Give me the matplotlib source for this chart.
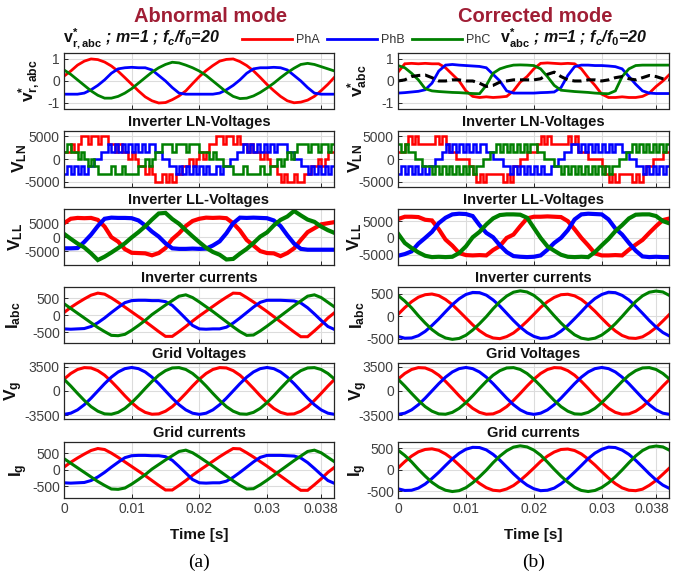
import numpy as np
import matplotlib
matplotlib.use("Agg")
import matplotlib.pyplot as plt
from matplotlib.transforms import ScaledTranslation

# sample steps of the stored waveforms
STEP = 1e-3        # smooth signals
STEP_FINE = 0.5e-3  # PWM line-to-neutral voltages

# ---------------- reference signals (p.u.) ----------------
vref_ab_a = [0.22, 0.45, 0.72, 0.90, 1.00, 0.97, 0.86, 0.68, 0.44, 0.15,
             -0.15, -0.45, -0.72, -0.90, -1.00, -0.98, -0.85, -0.68, -0.45, -0.12,
             0.20, 0.47, 0.70, 0.90, 0.98, 1.00, 0.88, 0.70, 0.46, 0.16,
             -0.16, -0.44, -0.70, -0.90, -0.99, -0.96, -0.87, -0.70, -0.44, -0.15, 0.18]
vref_ab_b = [-0.60, -0.60, -0.60, -0.55, -0.40, -0.20, 0.05, 0.35, 0.55, 0.60,
             0.62, 0.60, 0.60, 0.50, 0.25, 0.00, -0.30, -0.55, -0.60, -0.60,
             -0.60, -0.60, -0.60, -0.55, -0.40, -0.20, 0.05, 0.35, 0.55, 0.60,
             0.60, 0.62, 0.60, 0.50, 0.25, 0.00, -0.30, -0.55, -0.60, -0.60, -0.60]
vref_ab_c = [0.50, 0.30, 0.05, -0.20, -0.45, -0.65, -0.78, -0.78, -0.70, -0.55,
             -0.35, -0.10, 0.15, 0.40, 0.60, 0.75, 0.85, 0.82, 0.72, 0.60,
             0.45, 0.25, 0.00, -0.25, -0.50, -0.70, -0.80, -0.78, -0.68, -0.52,
             -0.32, -0.10, 0.15, 0.38, 0.58, 0.75, 0.80, 0.75, 0.65, 0.55, 0.45]

vref_co_a = [0.40, 0.78, 0.80, 0.78, 0.80, 0.78, 0.78, 0.60, 0.30, 0.00,
             -0.45, -0.70, -0.75, -0.72, -0.75, -0.73, -0.70, -0.45, -0.05, 0.20,
             0.55, 0.80, 0.82, 0.80, 0.78, 0.80, 0.78, 0.55, 0.15, -0.20,
             -0.60, -0.75, -0.75, -0.72, -0.75, -0.75, -0.70, -0.55, -0.25, 0.00, 0.30]
vref_co_b = [-0.55, -0.53, -0.50, -0.47, -0.40, -0.10, 0.45, 0.72, 0.75, 0.72,
             0.70, 0.68, 0.66, 0.60, 0.30, 0.00, -0.45, -0.55, -0.55, -0.55,
             -0.55, -0.53, -0.52, -0.50, -0.30, 0.25, 0.65, 0.72, 0.72, 0.70,
             0.70, 0.68, 0.65, 0.55, 0.20, -0.15, -0.45, -0.55, -0.57, -0.57, -0.57]
vref_co_c = [0.70, 0.60, 0.35, 0.05, -0.35, -0.45, -0.48, -0.50, -0.52, -0.53,
             -0.55, -0.57, -0.58, -0.20, 0.35, 0.55, 0.65, 0.72, 0.73, 0.72,
             0.70, 0.55, 0.20, -0.20, -0.42, -0.45, -0.48, -0.50, -0.52, -0.55,
             -0.57, -0.58, -0.45, 0.20, 0.55, 0.70, 0.72, 0.72, 0.72, 0.72, 0.72]
# zero-sequence offset added in corrected mode
vref_co_zero = [0.00, 0.05, 0.20, 0.25, 0.27, 0.15, 0.00, 0.00, 0.05, 0.05,
                0.00, 0.00, -0.10, -0.25, -0.20, -0.05, 0.00, 0.05, 0.05, 0.05,
                0.05, 0.10, 0.30, 0.40, 0.20, 0.05, 0.00, 0.00, 0.05, 0.05,
                0.00, 0.05, 0.15, 0.20, 0.10, 0.05, 0.15, 0.25, 0.20, 0.10, 0.05]

# ---------------- line-to-neutral voltages (V), 0.5 ms step ----------------
ln_ab_a = [1600, 1600, 3400, 1600, 3400, 5200, 5200, 3400, 5200, 5200,
           3400, 5200, 5200, 3400, 3400, 1600, 3400, 1600, 1600, 0,
           1600, 0, -1600, -1600, -3200, -1600, -3200, -5000, -5000, -3200,
           -5000, -3200, -5000, -3200, -3200, -1600, -1600, 0, -1600, 0,
           1600, 0, 1600, 3400, 3400, 5200, 5200, 3400, 5200, 5200,
           3400, 5200, 3400, 3400, 1600, 3400, 1600, 1600, 0, 1600,
           0, -1600, -1600, -3200, -5000, -3200, -5000, -5000, -3200, -5000,
           -5000, -3200, -3200, -1600, -1600, 0, -1600, 0, 1600, 1600, 1600]
ln_ab_b = [-3200, -1600, -3200, -1600, -3200, -1600, -3200, -1600, -1600, 0,
           0, 1600, 1600, 3400, 1600, 3400, 1600, 3400, 1600, 3400,
           1600, 3400, 1600, 3400, 1600, 3400, 3400, 1600, 1600, 0,
           0, -1600, -1600, -3200, -1600, -3200, -1600, -3200, -1600, -3200,
           -1600, -3200, -1600, -3200, -3200, -1600, -3200, -1600, -1600, 0,
           0, 1600, 1600, 3400, 1600, 3400, 1600, 3400, 1600, 3400,
           1600, 3400, 1600, 3400, 3400, 3400, 1600, 1600, 0, 0,
           -1600, -1600, -3200, -1600, -3200, -1600, -3200, -1600, -3200, -1600, -3200]
ln_ab_c = [1600, 3400, 1600, 1600, 0, 1600, 0, -1600, 0, -1600,
           -3200, -3200, -3200, -3200, -1600, -3200, -3200, -1600, -3200, -3200,
           -3200, -3200, -1600, -1600, 0, -1600, 0, 1600, 1600, 3400,
           3400, 3400, 1600, 3400, 3400, 3400, 1600, 3400, 3400, 3400,
           1600, 1600, 1600, 0, 1600, 0, 0, -1600, -1600, -1600,
           -3200, -3200, -3200, -1600, -3200, -3200, -3200, -3200, -1600, -3200,
           -3200, -1600, -1600, 0, -1600, 0, 1600, 0, 1600, 3400,
           3400, 3400, 1600, 3400, 3400, 1600, 3400, 3400, 1600, 3400, 3400]

ln_co_a = [1600, 1600, 3400, 5200, 3400, 5200, 3400, 3400, 3400, 3400,
           3400, 5200, 3400, 5200, 3400, 1600, 1600, 0, 0, 0,
           0, -1600, -3200, -5000, -3200, -5000, -3200, -3200, -3200, -3200,
           -3200, -5000, -3200, -5000, -1600, -1600, 0, 0, 1600, 1600,
           1600, 3400, 5200, 3400, 5200, 3400, 3400, 3400, 3400, 3400,
           5200, 3400, 5200, 1600, 1600, 1600, 0, 0, 0, 0,
           -1600, -3200, -5000, -3200, -5000, -3200, -3200, -3200, -3200, -5000,
           -3200, -5000, -3200, -1600, -1600, 0, 0, 0, 1600, 1600, 1600]
ln_co_b = [-3200, -1600, -3200, -1600, -3200, -1600, -3200, -1600, -3200, -1600,
           -1600, 0, 0, 1600, 3400, 1600, 3400, 1600, 3400, 1600,
           3400, 1600, 3400, 1600, 3400, 3400, 1600, 1600, 0, 0,
           0, -1600, -1600, -3200, -1600, -3200, -1600, -3200, -1600, -3200,
           -1600, -3200, -1600, -3200, -3200, -1600, -1600, 0, 0, 1600,
           1600, 3400, 3400, 1600, 3400, 1600, 3400, 1600, 3400, 1600,
           3400, 1600, 3400, 1600, 3400, 3400, 1600, 1600, 0, 0,
           -1600, -1600, -3200, -1600, -3200, -1600, -3200, -1600, -3200, -1600, -3200]
ln_co_c = [3400, 1600, 3400, 1600, 1600, 0, 0, -1600, -1600, -1600,
           -3200, -1600, -3200, -1600, -3200, -1600, -3200, -1600, -3200, -1600,
           -3200, -1600, -3200, -1600, -1600, 0, 0, 1600, 1600, 3400,
           1600, 3400, 1600, 3400, 1600, 3400, 1600, 3400, 1600, 3400,
           3400, 1600, 1600, 0, 0, 0, -1600, -1600, -3200, -1600,
           -3200, -1600, -3200, -1600, -3200, -1600, -3200, -1600, -3200, -1600,
           -3200, -1600, -3200, -1600, -1600, 0, 0, 1600, 1600, 3400,
           1600, 3400, 1600, 3400, 1600, 3400, 1600, 3400, 1600, 3400, 3400]

# ---------------- line-to-line voltages (V) ----------------
ll_ab_a = [5000, 6600, 6900, 6800, 6900, 6200, 3800, 0, -1600, -4300,
           -5600, -5700, -5800, -6500, -5700, -3900, -700, 1400, 4000, 5800,
           6600, 7000, 6900, 7000, 6800, 5000, 2400, -1000, -3000, -5000,
           -5700, -5800, -6800, -5700, -4000, -1000, 1800, 3200, 4600, 5000, 5400]
ll_ab_b = [-4000, -4000, -3900, -1700, 900, 4000, 6600, 7000, 6900, 6900,
           6800, 6000, 4200, 2000, 200, -2200, -4000, -4200, -4200, -4100,
           -4200, -4100, -3000, -1500, 1400, 5000, 7000, 6900, 7000, 6900,
           6800, 6000, 4000, 700, -2300, -4200, -4500, -4500, -4500, -4500, -4500]
ll_ab_c = [1200, -600, -2300, -3700, -5800, -8200, -7000, -5500, -3900, -2200,
           -100, 1800, 3900, 6300, 8500, 8700, 6500, 4800, 2500, 300,
           -1800, -3800, -5300, -6300, -8000, -7800, -5900, -4200, -2100, 200,
           1700, 4200, 6200, 7400, 9400, 7800, 6300, 5500, 3800, 2500, 1500]

ll_co_a = [5600, 6300, 6300, 6200, 5400, 5200, 2600, -500, -2300, -4500,
           -5100, -5200, -5100, -5200, -3600, -2400, 0, 1000, 3500, 5800,
           6300, 6300, 6400, 6300, 6200, 5000, 2600, 0, -2200, -4600,
           -5200, -5200, -5100, -5200, -3500, -2000, -600, 1500, 3500, 5300, 5800]
ll_co_b = [-5300, -4800, -4000, -1700, 0, 1800, 4400, 6000, 7000, 7200,
           7100, 6500, 3800, 1500, 200, -2200, -4200, -5400, -5600, -5700,
           -5600, -5200, -3500, -1500, 0, 2300, 5500, 7000, 7200, 7100,
           7000, 5500, 2800, 1000, -1500, -3800, -5500, -5700, -5600, -5700, -5700]
ll_co_c = [1300, -1500, -3000, -4300, -5300, -5700, -5600, -5700, -5600, -4500,
           -2500, 200, 1800, 4000, 5800, 6800, 7000, 7000, 6900, 6000,
           3000, 0, -2500, -3800, -5000, -5600, -5700, -5600, -5700, -4200,
           -2200, -300, 2000, 3800, 5800, 6900, 7000, 7000, 6500, 5000, 4300]

# ---------------- phase currents (A), inverter side = grid side ----------------
i_ab_a = [80, 230, 360, 480, 590, 650, 620, 510, 380, 240,
          100, -40, -180, -330, -480, -620, -620, -480, -330, -170,
          -20, 120, 260, 400, 530, 650, 640, 520, 390, 250,
          110, -40, -190, -340, -490, -630, -630, -460, -280, -80, 80]
i_ab_b = [-400, -410, -400, -390, -330, -220, -80, 80, 230, 370,
          430, 440, 440, 430, 430, 400, 290, 100, -100, -300,
          -400, -410, -400, -400, -350, -230, -80, 80, 240, 380,
          440, 440, 440, 430, 420, 360, 220, 40, -150, -330, -420]
i_ab_c = [340, 200, 60, -80, -220, -360, -480, -590, -600, -560,
          -440, -300, -150, 20, 160, 300, 430, 560, 600, 520,
          390, 250, 110, -40, -190, -340, -480, -590, -580, -460,
          -320, -170, -20, 130, 280, 420, 560, 600, 520, 380, 240]

i_co_a = [40, 190, 320, 420, 475, 490, 455, 370, 255, 110,
          -40, -190, -320, -420, -480, -495, -450, -370, -250, -110,
          40, 195, 320, 415, 475, 485, 450, 370, 250, 110,
          -45, -195, -325, -425, -480, -490, -455, -365, -250, -105, 45]
i_co_b = [-445, -485, -480, -430, -335, -205, -60, 100, 255, 385,
          480, 525, 520, 465, 360, 225, 65, -95, -240, -360,
          -445, -490, -480, -430, -330, -205, -55, 100, 260, 390,
          480, 530, 520, 460, 360, 220, 65, -95, -240, -360, -440]
i_co_c = [460, 335, 185, 10, -150, -295, -405, -480, -510, -490,
          -420, -305, -165, -10, 165, 320, 445, 530, 560, 535,
          460, 340, 180, 10, -150, -290, -410, -485, -510, -485,
          -415, -305, -165, -5, 165, 325, 450, 530, 555, 535, 455]

# ---------------- grid voltages (V) ----------------
vg_a = [1700, 2530, 3110, 3380, 3330, 2940, 2280, 1380, 360, -710,
        -1700, -2530, -3110, -3380, -3330, -2940, -2280, -1380, -360, 710,
        1700, 2530, 3110, 3380, 3330, 2940, 2280, 1380, 360, -710,
        -1700, -2530, -3110, -3380, -3330, -2940, -2280, -1380, -360, 710, 1700]
vg_b = [-3400, -3230, -2750, -2000, -1050, 0, 1050, 2000, 2750, 3230,
        3400, 3230, 2750, 2000, 1050, 0, -1050, -2000, -2750, -3230,
        -3400, -3230, -2750, -2000, -1050, 0, 1050, 2000, 2750, 3230,
        3400, 3230, 2750, 2000, 1050, 0, -1050, -2000, -2750, -3230, -3400]
vg_c = [1700, 710, -360, -1380, -2280, -2940, -3330, -3380, -3110, -2530,
        -1700, -710, 360, 1380, 2280, 2940, 3330, 3380, 3110, 2530,
        1700, 710, -360, -1380, -2280, -2940, -3330, -3380, -3110, -2530,
        -1700, -710, 360, 1380, 2280, 2940, 3330, 3380, 3110, 2530, 1700]

PHASE_NAMES = ["PhA", "PhB", "PhC"]
PHASE_COLORS = ["#ff0000", "#0000ff", "#008000"]
TITLES = [None, "Inverter LN-Voltages", "Inverter LL-Voltages",
          "Inverter currents", "Grid Voltages", "Grid currents"]
YTICKS = [[-1, 0, 1], [-5000, 0, 5000], [-5000, 0, 5000],
          [-500, 0, 500], [-3500, 0, 3500], [-500, 0, 500]]
XTICKS = [0, 0.01, 0.02, 0.03, 0.038]
XTICKLABELS = ["0", "0.01", "0.02", "0.03", "0.038"]
X_END = 0.0399

FIG_W, FIG_H = 674, 576
PANEL_TOPS = [53, 131, 209, 287, 363, 442]
PANEL_H = 55.5
INK = "#262626"
TICK_INK = "#404040"
MODE_RED = "#a01e35"

plt.rcParams["font.family"] = ["Liberation Sans", "DejaVu Sans"]
plt.rcParams["mathtext.fontset"] = "custom"
plt.rcParams["mathtext.rm"] = "Liberation Sans:bold"
plt.rcParams["mathtext.bf"] = "Liberation Sans:bold"
plt.rcParams["mathtext.it"] = "Liberation Sans:italic:bold"


def time_axis(values, step):
    return np.arange(len(values)) * step


def style_panel(ax, ylim, yticks, bottom):
    ax.set_xlim(0, X_END)
    ax.set_ylim(*ylim)
    ax.set_xticks(XTICKS)
    ax.set_yticks(yticks)
    ax.set_yticklabels([str(v) for v in yticks])
    if bottom:
        ax.set_xticklabels(XTICKLABELS)
    else:
        ax.set_xticklabels([])
    ax.grid(True, color="#dcdcdc", linewidth=0.8)
    ax.set_axisbelow(True)
    ax.tick_params(direction="in", length=3, width=0.7, color=INK,
                   labelcolor=TICK_INK, labelsize=10, pad=3)
    for sp in ax.spines.values():
        sp.set_color(INK)
        sp.set_linewidth(0.9)


def draw_column(fig, x0, width, panels, ylabels, label_edges, tag):
    axes = []
    for i, (series, step, kind, lw, ylim) in enumerate(panels):
        top = PANEL_TOPS[i]
        rect = [x0 / FIG_W, 1 - (top + PANEL_H) / FIG_H,
                width / FIG_W, PANEL_H / FIG_H]
        ax = fig.add_axes(rect)
        lines = []
        for vals, color in zip(series, PHASE_COLORS):
            t = time_axis(vals, step)
            ds = "steps-post" if kind == "steps" else "default"
            ln, = ax.plot(t, vals, color=color, lw=lw, drawstyle=ds,
                          solid_joinstyle="miter")
            lines.append(ln)
        style_panel(ax, ylim, YTICKS[i], bottom=(i == len(panels) - 1))
        if TITLES[i]:
            ax.set_title(TITLES[i], fontsize=10.5, fontweight="bold",
                         color="#111111", pad=3.5)
        ax.set_ylabel(ylabels[i], fontsize=12.5, color="#111111")
        ax.yaxis.set_label_coords((label_edges[i] - x0) / width, 0.5)
        axes.append((ax, lines))

    cx = (x0 + width / 2) / FIG_W
    fig.text(cx, 1 - 535 / FIG_H, "Time [s]", ha="center", va="center",
             fontsize=11, fontweight="bold", color="#111111")
    fig.text(cx, 1 - 562 / FIG_H, tag, ha="center", va="center",
             fontsize=14, family="Liberation Serif", color="black")
    return axes


def main():
    fig = plt.figure(figsize=(FIG_W / 100, FIG_H / 100), dpi=100)

    left_panels = [
        ([vref_ab_a, vref_ab_b, vref_ab_c], STEP, "line", 2.0, (-1.25, 1.27)),
        ([ln_ab_a, ln_ab_b, ln_ab_c], STEP_FINE, "steps", 1.8, (-6000, 6200)),
        ([ll_ab_a, ll_ab_b, ll_ab_c], STEP, "line", 3.0, (-9800, 10100)),
        ([i_ab_a, i_ab_b, i_ab_c], STEP, "line", 2.2, (-800, 830)),
        ([vg_a, vg_b, vg_c], STEP, "line", 2.2, (-4000, 4050)),
        ([i_ab_a, i_ab_b, i_ab_c], STEP, "line", 2.2, (-850, 850)),
    ]
    right_panels = [
        ([vref_co_a, vref_co_b, vref_co_c], STEP, "line", 2.0, (-1.25, 1.27)),
        ([ln_co_a, ln_co_b, ln_co_c], STEP_FINE, "steps", 1.8, (-6000, 6200)),
        ([ll_co_a, ll_co_b, ll_co_c], STEP, "line", 3.0, (-7900, 8600)),
        ([i_co_a, i_co_b, i_co_c], STEP, "line", 2.2, (-580, 645)),
        ([vg_a, vg_b, vg_c], STEP, "line", 2.2, (-4000, 4050)),
        ([i_co_a, i_co_b, i_co_c], STEP, "line", 2.2, (-650, 650)),
    ]
    left_labels = [r"$\mathrm{v^{*}_{r,abc}}$", r"$\mathrm{V_{LN}}$",
                   r"$\mathrm{V_{LL}}$", r"$\mathrm{I_{abc}}$",
                   r"$\mathrm{V_{g}}$", r"$\mathrm{I_{g}}$"]
    right_labels = [r"$\mathrm{v^{*}_{abc}}$"] + left_labels[1:]

    left = draw_column(fig, 64, 270, left_panels, left_labels,
                       [43, 29, 25, 23, 25, 30], "(a)")
    right = draw_column(fig, 398, 271, right_panels, right_labels,
                        [370, 365, 364, 367, 370, 369], "(b)")

    # keep the last time label of the right column inside the canvas
    last = right[-1][0].get_xticklabels()[-1]
    last.set_transform(last.get_transform()
                       + ScaledTranslation(-3 / 72, 0, fig.dpi_scale_trans))

    # zero-sequence component of the corrected references
    ax_ref = right[0][0]
    ax_ref.plot(time_axis(vref_co_zero, STEP), vref_co_zero, color="black",
                lw=2.2, linestyle=(0, (3, 1.6)))

    fig.text(211 / FIG_W, 1 - 16 / FIG_H, "Abnormal mode", ha="center",
             va="center", fontsize=14.5, fontweight="bold", color=MODE_RED)
    fig.text(535 / FIG_W, 1 - 17 / FIG_H, "Corrected mode", ha="center",
             va="center", fontsize=14.5, fontweight="bold", color=MODE_RED)

    fig.text(63 / FIG_W, 1 - 43 / FIG_H,
             r"$\mathrm{v^{*}_{r,abc}}$ ; m=1 ; f$_c$/f$_0$=20",
             ha="left", va="baseline", fontsize=11.5, fontweight="bold",
             style="italic", color="#111111")
    fig.text(500 / FIG_W, 1 - 43 / FIG_H,
             r"$\mathrm{v^{*}_{abc}}$ ; m=1 ; f$_c$/f$_0$=20",
             ha="left", va="baseline", fontsize=11.5, fontweight="bold",
             style="italic", color="#111111")

    fig.legend(handles=left[0][1], labels=PHASE_NAMES, ncol=3, loc="center",
               bbox_to_anchor=(366 / FIG_W, 1 - 40 / FIG_H), frameon=False,
               fontsize=9, handlelength=4.0, handletextpad=0.3,
               columnspacing=0.6, borderaxespad=0, labelcolor="#333333")

    fig.savefig("out.png", dpi=100)


if __name__ == "__main__":
    main()
